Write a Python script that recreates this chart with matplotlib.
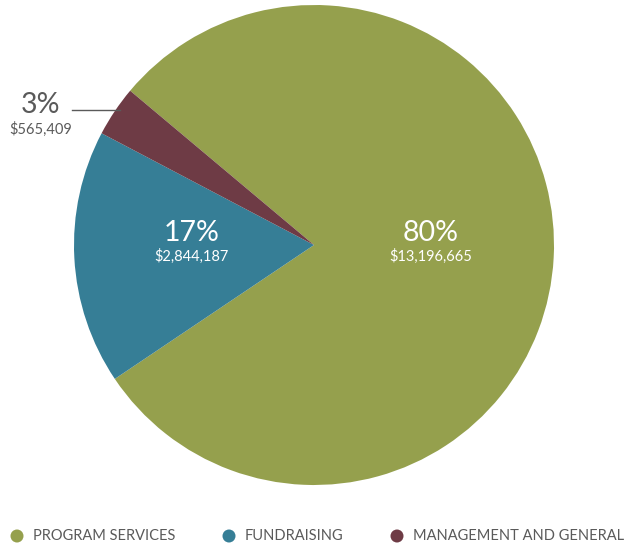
import matplotlib.pyplot as plt
from matplotlib.patches import Circle

# data
labels = ["PROGRAM SERVICES", "FUNDRAISING", "MANAGEMENT AND GENERAL"]
amounts = [13196665, 2844187, 565409]
pct_labels = ["80%", "17%", "3%"]
money_labels = ["$13,196,665", "$2,844,187", "$565,409"]
colors = ["#95a04d", "#367e96", "#6e3b45"]

plt.rcParams['font.family'] = ['Lato', 'DejaVu Sans']

fig = plt.figure(figsize=(6.29, 5.46), dpi=100)
ax = fig.add_axes([0, 0, 1, 1])
ax.set_xlim(0, 629)
ax.set_ylim(0, 546)
ax.set_aspect('equal')
ax.axis('off')

cx, cy, r = 314, 301, 240
ax.pie(amounts, colors=colors, startangle=140, counterclock=False,
       center=(cx, cy), radius=r, wedgeprops=dict(linewidth=0))
ax.set_xlim(0, 629)
ax.set_ylim(0, 546)

# slice labels (inside)
ax.text(431, 546 - 233, pct_labels[0], color='white', fontsize=20.5, ha='center', va='center')
ax.text(431, 546 - 256, money_labels[0], color='white', fontsize=10.5, ha='center', va='center')
ax.text(192, 546 - 233, pct_labels[1], color='white', fontsize=20.5, ha='center', va='center')
ax.text(192, 546 - 256, money_labels[1], color='white', fontsize=10.5, ha='center', va='center')

# small slice label with leader
grey = '#5a5a5a'
ax.text(41, 546 - 105, pct_labels[2], color=grey, fontsize=20.5, ha='center', va='center')
ax.text(41, 546 - 129, money_labels[2], color=grey, fontsize=10.5, ha='center', va='center')
ax.plot([72, 120], [546 - 110, 546 - 110], color=grey, linewidth=1)

# legend
leg_x = [17, 229, 397]
for x, lab, col in zip(leg_x, labels, colors):
    ax.add_patch(Circle((x, 546 - 536), 6.5, color=col, linewidth=0))
    ax.text(x + 16, 546 - 536, lab, color=grey, fontsize=10.5, ha='left', va='center')

fig.savefig('out.png', dpi=100)
